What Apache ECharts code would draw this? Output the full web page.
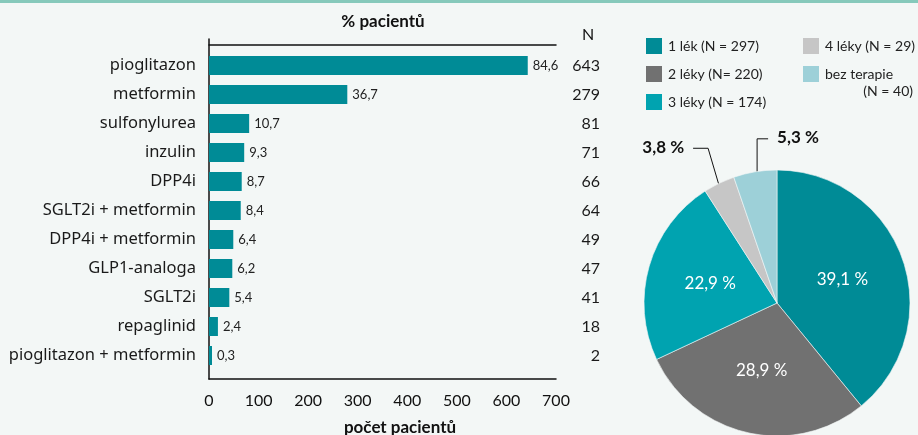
<!DOCTYPE html>
<html>
<head>
<meta charset="utf-8">
<script src="https://cdn.jsdelivr.net/npm/echarts@6/dist/echarts.min.js"></script>
<style>
  html, body { margin: 0; padding: 0; background: #f3f7f6; }
  #main { width: 918px; height: 435px; }
</style>
</head>
<body>
<div id="main"></div>
<script>
// bar chart data
var categories = ['pioglitazon', 'metformin', 'sulfonylurea', 'inzulin', 'DPP4i', 'SGLT2i + metformin',
  'DPP4i + metformin', 'GLP1-analoga', 'SGLT2i', 'repaglinid', 'pioglitazon + metformin'];
var counts = [643, 279, 81, 71, 66, 64, 49, 47, 41, 18, 2];
var percents = [84.6, 36.7, 10.7, 9.3, 8.7, 8.4, 6.4, 6.2, 5.4, 2.4, 0.3];

// pie data
var pieNames = ['1 lék', '2 léky', '3 léky', '4 léky', 'bez terapie'];
var pieCounts = [297, 220, 174, 29, 40];
var piePercents = [39.1, 28.9, 22.9, 3.8, 5.3];
var legendLabels = ['1 lék (N = 297)', '2 léky (N= 220)', '3 léky (N = 174)', '4 léky (N = 29)', 'bez terapie'];
var pieColors = ['#008b96', '#717171', '#00a3b0', '#c6c6c6', '#9dd0d8'];

var FONT = 'Lato';
var teal = '#008b96';

function cz(v) { return String(v).replace('.', ','); }

var pieData = pieNames.map(function (n, i) {
  var outside = piePercents[i] < 10;
  return {
    name: n,
    value: pieCounts[i],
    itemStyle: { color: pieColors[i] },
    label: outside
      ? { position: 'outside', color: '#111', fontWeight: 'bold', fontSize: 17 }
      : { position: 'inside', color: '#fff', fontSize: 17 },
    labelLine: { show: outside, lineStyle: { color: '#111', width: 1 } }
  };
});

var chart = echarts.init(document.getElementById('main'));
chart.setOption({
  backgroundColor: '#f3f7f6',
  animation: false,
  textStyle: { fontFamily: FONT },
  graphic: [
    { type: 'rect', shape: { x: 0, y: 0, width: 918, height: 3 }, style: { fill: '#86c9bb' } },
    { type: 'text', x: 383, y: 22, style: { text: '% pacientů', font: 'bold 17px ' + FONT, fill: '#111', align: 'center', verticalAlign: 'middle' } },
    { type: 'text', x: 588, y: 35, style: { text: 'N', font: '16px ' + FONT, fill: '#111', align: 'center', verticalAlign: 'middle' } },
    { type: 'text', x: 400, y: 428, style: { text: 'počet pacientů', font: 'bold 17px ' + FONT, fill: '#111', align: 'center', verticalAlign: 'middle' } },
    { type: 'text', x: 913, y: 91, style: { text: '(N = 40)', font: '14px ' + FONT, fill: '#222', align: 'right', verticalAlign: 'middle' } }
  ],
  legend: [
    {
      data: pieNames.slice(0, 3),
      left: 644, top: 36, orient: 'vertical', padding: 0,
      itemWidth: 18, itemHeight: 18, itemGap: 8, icon: 'rect',
      textStyle: { fontSize: 14, color: '#222', fontFamily: FONT },
      formatter: function (n) { return legendLabels[pieNames.indexOf(n)]; }
    },
    {
      data: pieNames.slice(3),
      left: 801, top: 36, orient: 'vertical', padding: 0,
      itemWidth: 18, itemHeight: 18, itemGap: 8, icon: 'rect',
      textStyle: { fontSize: 14, color: '#222', fontFamily: FONT },
      formatter: function (n) { return legendLabels[pieNames.indexOf(n)]; }
    }
  ],
  grid: [
    { left: 209, right: 362, top: 51, bottom: 65 },
    { left: 209, right: 362, top: 39, bottom: 56 }
  ],
  xAxis: [
    {
      type: 'value', gridIndex: 0, min: 0, max: 700, interval: 100, position: 'bottom', offset: 9,
      axisLine: { show: true, lineStyle: { color: '#111', width: 1.5 } },
      axisTick: { show: false }, splitLine: { show: false },
      axisLabel: { fontSize: 16, color: '#111', margin: 14, fontFamily: FONT }
    },
    {
      type: 'value', gridIndex: 0, min: 0, max: 700, position: 'top', offset: 6,
      axisLine: { show: true, lineStyle: { color: '#111', width: 1.5 } },
      axisTick: { show: false }, splitLine: { show: false }, axisLabel: { show: false }
    },
    { type: 'value', gridIndex: 1, show: false }
  ],
  yAxis: [
    {
      type: 'category', gridIndex: 0, data: categories, inverse: true,
      axisLine: { show: false }, axisTick: { show: false },
      axisLabel: { fontSize: 16.5, color: '#1a1a1a', margin: 13, fontFamily: 'Noto Sans' }
    },
    {
      type: 'category', gridIndex: 0, data: counts.map(String), inverse: true, position: 'right',
      axisLine: { show: false }, axisTick: { show: false },
      axisLabel: { fontSize: 16, color: '#1a1a1a', margin: 44, align: 'right', fontFamily: FONT }
    },
    {
      type: 'value', gridIndex: 1, min: 0, max: 1,
      axisLine: { show: true, lineStyle: { color: '#111', width: 1.5 } },
      axisTick: { show: false }, splitLine: { show: false }, axisLabel: { show: false }
    }
  ],
  series: [
    {
      type: 'bar', xAxisIndex: 0, yAxisIndex: 0,
      data: counts, barWidth: 19, barMinHeight: 3,
      itemStyle: { color: teal },
      label: {
        show: true, position: 'right', distance: 5, fontSize: 13, color: '#222', fontFamily: FONT,
        formatter: function (p) { return cz(percents[p.dataIndex]); }
      }
    },
    {
      type: 'pie', center: [777, 303], radius: 133, startAngle: 90, clockwise: true,
      data: pieData,
      itemStyle: { borderColor: '#f3f7f6', borderWidth: 0.6 },
      label: {
        show: true, fontFamily: FONT,
        formatter: function (p) { return cz(piePercents[p.dataIndex]) + ' %'; }
      },
      labelLayout: function (params) {
        var pts = params.labelLinePoints;
        if (!pts) return {};
        var p0 = pts[0];
        if (params.dataIndex === 3) {
          return {
            x: p0[0] - 35, y: p0[1] - 36, align: 'right', verticalAlign: 'middle',
            labelLinePoints: [[p0[0] + 2, p0[1] + 9], [p0[0] - 11, p0[1] - 35], [p0[0] - 26, p0[1] - 35]]
          };
        }
        if (params.dataIndex === 4) {
          return {
            x: p0[0] + 22, y: p0[1] - 34, align: 'left', verticalAlign: 'middle',
            labelLinePoints: [[p0[0] + 2, p0[1] + 13], [p0[0] + 2, p0[1] - 33], [p0[0] + 13, p0[1] - 33]]
          };
        }
        return {};
      }
    }
  ]
});
</script>
</body>
</html>
